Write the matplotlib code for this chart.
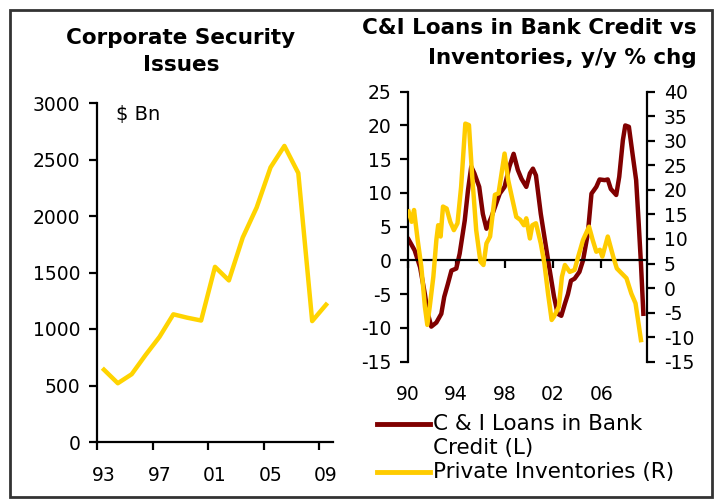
import matplotlib
matplotlib.use("Agg")
import matplotlib.pyplot as plt
from matplotlib.lines import Line2D
from matplotlib.patches import Rectangle
import matplotlib.transforms as mtransforms

plt.rcParams["font.family"] = ["DejaVu Sans"]
plt.rcParams["axes.unicode_minus"] = False

# --- left panel: corporate security issues, $ Bn ---
issue_labels = ["93", "97", "01", "05", "09"]
issue_years = list(range(1993, 2010))
issue_values = [640, 520, 600, 770, 930, 1130, 1100, 1075, 1550, 1430,
                1810, 2075, 2430, 2620, 2380, 1070, 1215]

# --- right panel: C&I loans (L) vs private inventories (R), y/y % chg ---
ci_year = [1990.05, 1990.55, 1991.0, 1991.4, 1991.65, 1991.93, 1992.35, 1992.76,
           1993.0, 1993.3, 1993.6, 1994.0, 1994.28, 1994.7, 1994.97, 1995.24,
           1995.5, 1995.9, 1996.2, 1996.5, 1996.9, 1997.3, 1997.6, 1998.0,
           1998.4, 1998.75, 1999.1, 1999.4, 1999.8, 2000.1, 2000.35, 2000.6,
           2001.0, 2001.3, 2001.7, 2002.1, 2002.4, 2002.7, 2003.0, 2003.25,
           2003.5, 2003.8, 2004.2, 2004.5, 2004.9, 2005.2, 2005.6, 2005.87,
           2006.3, 2006.55, 2006.8, 2007.25, 2007.5, 2007.8, 2008.0, 2008.3,
           2008.6, 2008.9, 2009.1, 2009.3, 2009.5]
ci_val = [3.1, 1.5, -1, -5, -7.9, -9.8, -9.2, -7.9, -5.4, -3.5, -1.5, -1.2, 1,
          5.9, 10.4, 13.9, 12.9, 10.9, 6.9, 4.7, 6.4, 8.4, 9.9, 10.9, 13.9, 15.8,
          13.4, 12.1, 10.9, 12.9, 13.6, 12.6, 6.9, 3.5, -1, -5.4, -7.9, -8.2,
          -6.4, -5, -3, -2.7, -1.7, 0, 4, 9.9, 10.9, 12, 11.9, 12, 10.6, 9.7,
          12.4, 17.8, 20, 19.8, 15.8, 11.9, 5.9, -0.5, -7.9]

inv_year = [1990.05, 1990.3, 1990.5, 1990.8, 1991.1, 1991.4, 1991.6, 1991.8,
            1992.1, 1992.35, 1992.5, 1992.7, 1992.9, 1993.2, 1993.5, 1993.8,
            1994.1, 1994.4, 1994.75, 1995.05, 1995.3, 1995.65, 1996.0, 1996.25,
            1996.5, 1996.8, 1997.2, 1997.5, 1998.0, 1998.3, 1998.6, 1998.97,
            1999.3, 1999.6, 1999.8, 2000.1, 2000.3, 2000.6, 2001.0, 2001.3,
            2001.6, 2001.9, 2002.1, 2002.5, 2002.75, 2003.0, 2003.4, 2003.8,
            2004.1, 2004.5, 2005.0, 2005.3, 2005.6, 2005.9, 2006.1, 2006.55,
            2007.0, 2007.3, 2007.7, 2008.1, 2008.5, 2008.85, 2009.3]
inv_val = [15.6, 13.5, 15.9, 9.8, 4.4, -3.8, -7.5, -3.8, 2.3, 9.8, 12.8, 10.5,
           16.6, 16.2, 13.5, 11.8, 13.2, 20.6, 33.5, 33.2, 23.4, 11.8, 5.4, 4.7,
           9.1, 10.5, 19, 19.3, 27.4, 22, 18.6, 14.5, 13.9, 12.8, 14.2, 10.1,
           12.8, 13.2, 9.1, 5, -1.1, -6.5, -5.8, -3.8, 2.3, 4.7, 3.3, 3.7, 6.4,
           9.8, 12.5, 9.8, 7.4, 7.8, 6.4, 10.5, 6.4, 4, 3, 2, -1.1, -3.1, -10.6]

year_ticks = [1990, 1994, 1998, 2002, 2006]
year_labels = ["90", "94", "98", "02", "06"]

W, H = 714, 499
fig = plt.figure(figsize=(W / 100, H / 100), dpi=100)
fig.patch.set_facecolor("white")


def px_rect(x0, y0, x1, y1):
    # pixel box (top-left origin) -> figure fraction rect
    return [x0 / W, 1 - y1 / H, (x1 - x0) / W, (y1 - y0) / H]


# outer frame
fig.add_artist(Rectangle((10 / W, 1 - 497 / H), 702 / W, 487 / H,
                         transform=fig.transFigure, fill=False,
                         edgecolor="#333333", lw=2))

TICK_FS = 13.5
LINE_W = 3.2

# ---------- left panel ----------
axl = fig.add_axes(px_rect(97, 103, 333, 442))
x_idx = range(len(issue_years))
axl.plot(x_idx, issue_values, color="#FFD400", lw=LINE_W)
axl.set_xlim(-0.5, len(issue_years) - 0.5)
axl.set_ylim(0, 3000)
axl.set_yticks(range(0, 3001, 500))
axl.set_xticks([-0.5, 3.5, 7.5, 11.5, 15.5])
axl.set_xticklabels([])
axl.set_xticks([0, 4, 8, 12, 16], minor=True)
axl.set_xticklabels(issue_labels, minor=True)
axl.tick_params(axis="x", which="minor", length=0, pad=17, labelsize=TICK_FS)
axl.tick_params(axis="both", which="major", direction="out", length=6,
                width=1.6, labelsize=TICK_FS, pad=6)
for s in ["top", "right"]:
    axl.spines[s].set_visible(False)
for s in ["left", "bottom"]:
    axl.spines[s].set_linewidth(1.6)
axl.text(0.08, 0.965, "$ Bn", transform=axl.transAxes, fontsize=14,
         ha="left", va="center")

fig.text(181 / W, 1 - 38 / H, "Corporate Security", ha="center",
         va="center", fontsize=15.5, weight="bold")
fig.text(181 / W, 1 - 65 / H, "Issues", ha="center",
         va="center", fontsize=15.5, weight="bold")

# ---------- right panel ----------
axr = fig.add_axes(px_rect(408, 91.7, 647, 361.7))
axr.plot(ci_year, ci_val, color="#800000", lw=LINE_W)
axr.set_xlim(1990, 2009.8)
axr.set_ylim(-15, 25)
axr.set_yticks(range(-15, 26, 5))
axr.set_xticks(year_ticks)
axr.set_xticklabels([])
axr.spines["bottom"].set_position(("data", 0))
for s in ["top", "right"]:
    axr.spines[s].set_visible(False)
for s in ["left", "bottom"]:
    axr.spines[s].set_linewidth(1.6)
axr.tick_params(axis="both", direction="out", length=6, width=1.6,
                labelsize=TICK_FS, pad=6)
trans = mtransforms.blended_transform_factory(axr.transData, axr.transAxes)
for yr, lab in zip(year_ticks, year_labels):
    axr.text(yr, -0.12, lab, transform=trans, ha="center", va="center",
             fontsize=TICK_FS)

axr2 = axr.twinx()
axr2.plot(inv_year, inv_val, color="#FFCC00", lw=LINE_W)
axr2.set_ylim(-15, 40)
axr2.set_yticks(range(-15, 41, 5))
for s in ["top", "left", "bottom"]:
    axr2.spines[s].set_visible(False)
axr2.spines["right"].set_linewidth(1.6)
axr2.tick_params(axis="y", direction="out", length=6, width=1.6,
                 labelsize=TICK_FS, pad=6)

fig.text(697 / W, 1 - 28 / H, "C&I Loans in Bank Credit vs",
         ha="right", va="center", fontsize=15.5, weight="bold")
fig.text(697 / W, 1 - 58 / H, "Inventories, y/y % chg",
         ha="right", va="center", fontsize=15.5, weight="bold")

# legend
LEG_FS = 15.5
fig.add_artist(Line2D([377 / W, 430 / W], [1 - 424 / H, 1 - 424 / H],
                      color="#800000", lw=3.5, transform=fig.transFigure))
fig.add_artist(Line2D([377 / W, 430 / W], [1 - 472 / H, 1 - 472 / H],
                      color="#FFCC00", lw=3.5, transform=fig.transFigure))
fig.text(433 / W, 1 - 424 / H, "C & I Loans in Bank", fontsize=LEG_FS,
         ha="left", va="center")
fig.text(433 / W, 1 - 448 / H, "Credit (L)", fontsize=LEG_FS,
         ha="left", va="center")
fig.text(433 / W, 1 - 472 / H, "Private Inventories (R)", fontsize=LEG_FS,
         ha="left", va="center")

fig.savefig("out.png", dpi=100)
